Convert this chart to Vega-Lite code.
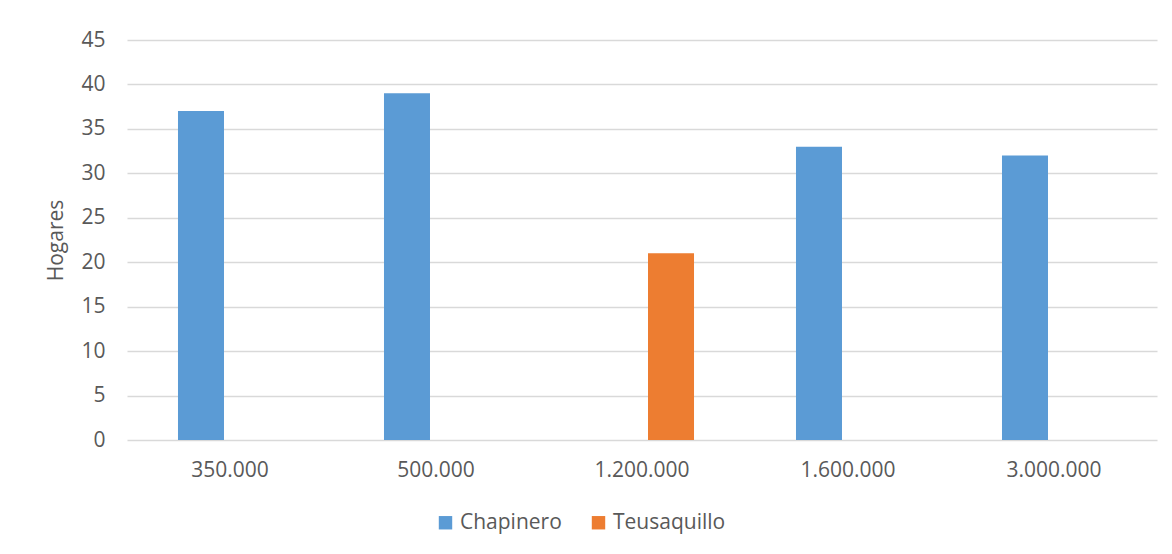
{
  "$schema": "https://vega.github.io/schema/vega-lite/v6.json",
  "width": 1030,
  "height": 400,
  "autosize": {"type": "none"},
  "padding": {"left": 127, "top": 40, "right": 15, "bottom": 114},
  "background": "white",
  "data": {
    "values": [
      {"ingreso": "350.000", "localidad": "Chapinero", "hogares": 37},
      {"ingreso": "500.000", "localidad": "Chapinero", "hogares": 39},
      {"ingreso": "1.200.000", "localidad": "Teusaquillo", "hogares": 21},
      {"ingreso": "1.600.000", "localidad": "Chapinero", "hogares": 33},
      {"ingreso": "3.000.000", "localidad": "Chapinero", "hogares": 32}
    ]
  },
  "mark": {"type": "bar"},
  "encoding": {
    "x": {
      "field": "ingreso",
      "type": "nominal",
      "sort": ["350.000", "500.000", "1.200.000", "1.600.000", "3.000.000"],
      "scale": {"paddingInner": 0.495, "paddingOuter": 0.2475},
      "axis": {
        "title": null,
        "labelAngle": 0,
        "ticks": false,
        "domain": false,
        "labelPadding": 19,
        "labelFontSize": 21,
        "labelFont": "Open Sans",
        "labelColor": "#595959"
      }
    },
    "xOffset": {
      "field": "localidad",
      "type": "nominal",
      "scale": {"domain": ["Chapinero", "Teusaquillo"], "paddingInner": 0.207, "paddingOuter": 0}
    },
    "y": {
      "field": "hogares",
      "type": "quantitative",
      "scale": {"domain": [0, 45]},
      "axis": {
        "title": "Hogares",
        "titleFont": "Open Sans",
        "titleFontSize": 21,
        "titleFontWeight": "normal",
        "titleColor": "#595959",
        "titlePadding": 14,
        "values": [0, 5, 10, 15, 20, 25, 30, 35, 40, 45],
        "ticks": false,
        "domain": false,
        "labelPadding": 22,
        "labelFontSize": 21,
        "labelFont": "Open Sans",
        "labelColor": "#595959",
        "gridColor": "#d9d9d9",
        "gridWidth": 1.5
      }
    },
    "color": {
      "field": "localidad",
      "type": "nominal",
      "scale": {"domain": ["Chapinero", "Teusaquillo"], "range": ["#5B9BD5", "#ED7D31"]},
      "legend": {
        "title": null,
        "orient": "none",
        "legendX": 308,
        "legendY": 472,
        "direction": "horizontal",
        "symbolType": "square",
        "symbolSize": 180,
        "symbolStrokeWidth": 0,
        "labelFont": "Open Sans",
        "labelFontSize": 21,
        "labelColor": "#595959",
        "columnPadding": 26,
        "labelOffset": 4
      }
    }
  },
  "config": {
    "view": {"stroke": null}
  }
}
